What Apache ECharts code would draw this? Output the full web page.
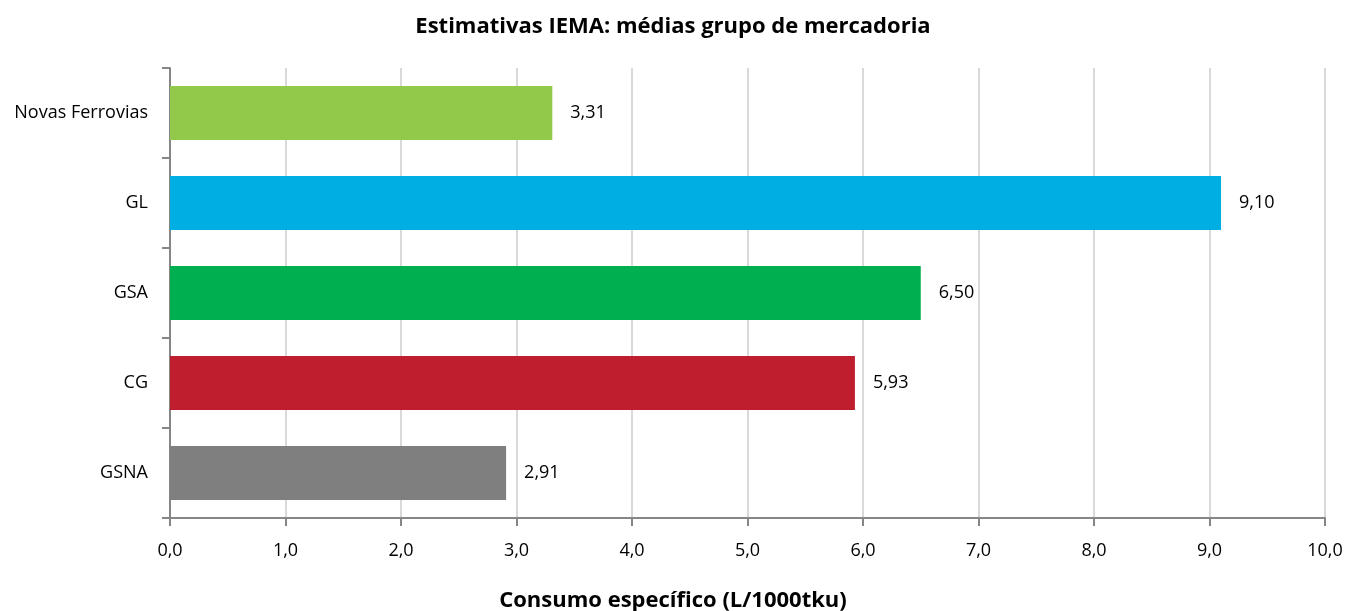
<!DOCTYPE html>
<html>
<head>
<meta charset="utf-8">
<script src="https://cdn.jsdelivr.net/npm/echarts@6/dist/echarts.min.js"></script>
<style>
  html, body { margin: 0; padding: 0; background: #fff; }
  #chart { width: 1346px; height: 611px; }
</style>
</head>
<body>
<div id="chart"></div>
<script>
// bottom-to-top order, as ECharts draws category axes
const categories = ['GSNA', 'CG', 'GSA', 'GL', 'Novas Ferrovias']
const values = [2.91, 5.93, 6.50, 9.10, 3.31]
const barColors = ['#7f7f7f', '#be1e2d', '#00b050', '#00aee4', '#92c94b']
const xTicks = [0, 1, 2, 3, 4, 5, 6, 7, 8, 9, 10]

const font = '"Open Sans", "Liberation Sans", sans-serif'
const fmt = (v, d) => v.toFixed(d).replace('.', ',')

const chart = echarts.init(document.getElementById('chart'))
chart.setOption({
  animation: false,
  textStyle: { fontFamily: font },
  // the x-axis title is centred on the whole chart, not on the plot, so it is a second title
  title: [{
    text: 'Estimativas IEMA: médias grupo de mercadoria',
    left: 'center',
    top: 11,
    textStyle: { fontFamily: font, fontSize: 22, fontWeight: 'bold', color: '#000' }
  }, {
    text: 'Consumo específico (L/1000tku)',
    left: 'center',
    top: 585,
    textStyle: { fontFamily: font, fontSize: 22, fontWeight: 'bold', color: '#000' }
  }],
  grid: { left: 170, right: 21, top: 68, bottom: 93, containLabel: false },
  xAxis: {
    type: 'value',
    min: xTicks[0],
    max: xTicks[xTicks.length - 1],
    interval: 1,
    axisLine: { show: true, lineStyle: { color: '#868686', width: 2 } },
    axisTick: { show: true, length: 8, lineStyle: { color: '#868686', width: 2 } },
    axisLabel: { color: '#000', fontSize: 18, margin: 24, formatter: v => fmt(v, 1) },
    splitLine: { show: true, lineStyle: { color: '#d9d9d9', width: 2 } }
  },
  yAxis: {
    type: 'category',
    data: categories,
    axisLine: { show: true, lineStyle: { color: '#868686', width: 2 } },
    axisTick: { show: true, length: 8, lineStyle: { color: '#868686', width: 2 } },
    axisLabel: { color: '#000', fontSize: 18, margin: 22 },
    splitLine: { show: false }
  },
  series: [{
    type: 'bar',
    barWidth: '60%',
    data: values.map((v, i) => ({ value: v, itemStyle: { color: barColors[i] } })),
    label: {
      show: true,
      position: 'right',
      distance: 18,
      color: '#000',
      fontSize: 18,
      fontFamily: font,
      formatter: p => fmt(p.value, 2)
    }
  }]
})
</script>
</body>
</html>
